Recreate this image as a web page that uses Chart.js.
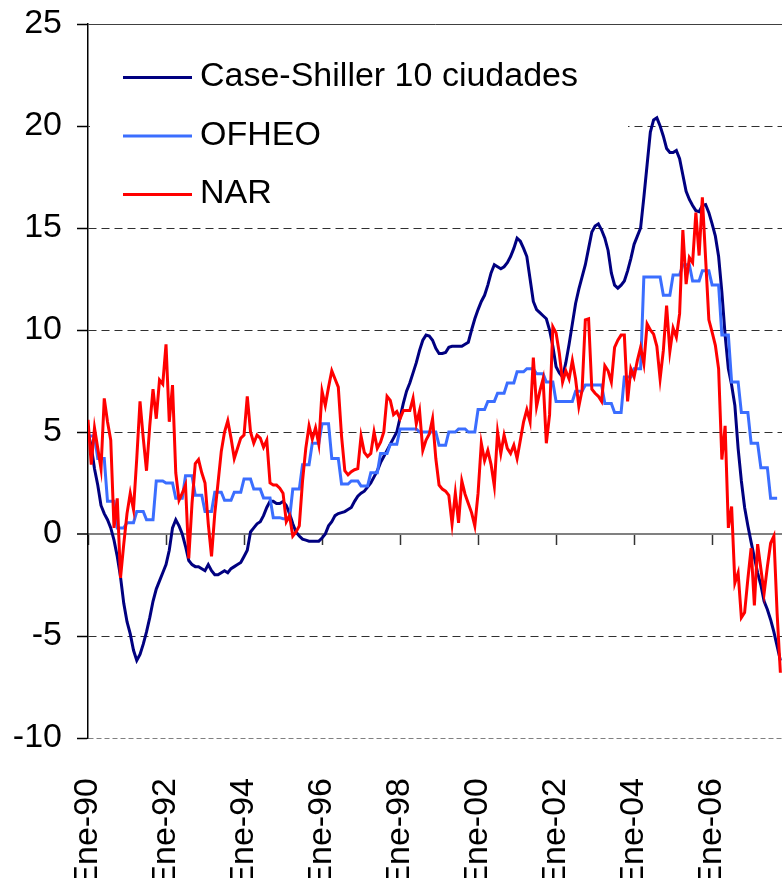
<!DOCTYPE html>
<html>
<head>
<meta charset="utf-8">
<script src="https://cdn.jsdelivr.net/npm/chart.js@4.4.1/dist/chart.umd.min.js"></script>
<style>
  html, body { margin: 0; padding: 0; background: #fff; overflow: hidden; }
  #wrap { width: 782px; height: 878px; }
</style>
</head>
<body>
<div id="wrap"><canvas id="chart" width="782" height="878"></canvas></div>
<script>
// monthly series start in Jan 1990 (index 0 = Ene-90)
const tickLabels = ["Ene-90", "Ene-92", "Ene-94", "Ene-96", "Ene-98", "Ene-00", "Ene-02", "Ene-04", "Ene-06"];
const tickMonths = [0, 24, 48, 72, 96, 120, 144, 168, 192];
const yTicks = [-10, -5, 0, 5, 10, 15, 20, 25];

const caseShiller = [
  5.0, 4.3, 3.2, 2.4, 1.4, 1.0, 0.7, 0.3, -0.3, -1.1,
  -2.1, -3.4, -4.3, -4.9, -5.7, -6.2, -5.9, -5.4, -4.8, -4.1,
  -3.3, -2.7, -2.3, -1.9, -1.5, -0.8, 0.3, 0.7, 0.4, 0.0,
  -0.6, -1.3, -1.5, -1.6, -1.6, -1.7, -1.8, -1.5, -1.8, -2.0,
  -2.0, -1.9, -1.8, -1.9, -1.7, -1.6, -1.5, -1.4, -1.1, -0.8,
  0.1, 0.3, 0.5, 0.6, 0.9, 1.3, 1.6, 1.6, 1.5, 1.5,
  1.6, 1.4, 1.0, 0.5, 0.1, -0.1, -0.25, -0.3, -0.35, -0.35,
  -0.35, -0.35, -0.2, 0.0, 0.4, 0.6, 0.9, 1.0, 1.05, 1.1,
  1.2, 1.3, 1.6, 1.85, 2.0, 2.1, 2.3, 2.5, 2.8, 3.1,
  3.5, 3.8, 4.1, 4.4, 4.7, 5.0, 5.7, 6.4, 7.0, 7.4,
  7.9, 8.4, 9.0, 9.5, 9.75, 9.7, 9.5, 9.1, 8.85, 8.85,
  8.9, 9.15, 9.2, 9.2, 9.2, 9.2, 9.3, 9.4, 10.0, 10.55,
  11.0, 11.4, 11.7, 12.2, 12.8, 13.2, 13.1, 13.0, 13.1, 13.3,
  13.6, 14.0, 14.5, 14.35, 14.0, 13.6, 12.5, 11.4, 11.0, 10.85,
  10.7, 10.55, 10.0, 9.2, 8.2, 7.9, 7.7, 8.4, 9.3, 10.3,
  11.3, 12.0, 12.6, 13.2, 14.0, 14.8, 15.1, 15.2, 14.9, 14.5,
  13.9, 12.8, 12.2, 12.05, 12.2, 12.4, 12.9, 13.5, 14.2, 14.6,
  15.0, 16.5, 18.1, 19.7, 20.3, 20.4, 20.0, 19.5, 18.9, 18.7,
  18.7, 18.8, 18.4, 17.6, 16.8, 16.4, 16.1, 15.85, 15.8, 16.1,
  16.15, 15.75, 15.2, 14.6, 13.6, 11.85, 9.75, 8.1, 7.3, 6.3,
  4.2, 2.6, 1.3, 0.4, -0.4, -1.15, -1.9, -2.5, -3.3, -3.7,
  -4.2, -4.8, -5.5, -6.2
];

// OFHEO is quarterly (index 0 = 1990 Q1)
const ofheo = [
  4.8, 3.7, 1.6, 0.3, 0.55, 1.1, 0.7, 2.6, 2.5, 1.75,
  2.85, 1.9, 1.1, 2.05, 1.65, 2.05, 2.7, 2.2, 1.77, 0.8,
  0.75, 2.2, 3.4, 4.45, 5.4, 3.7, 2.45, 2.6, 2.35, 3.0,
  3.95, 4.4, 5.15, 5.15, 5.0, 5.0, 4.35, 5.0, 5.15, 5.0,
  6.1, 6.5, 6.9, 7.4, 7.95, 8.1, 7.85, 7.45, 6.5, 6.5,
  7.0, 7.3, 7.3, 6.4, 5.95, 7.7, 8.1, 12.6, 12.6, 11.7,
  12.7, 13.2, 12.4, 12.9, 12.2, 9.75, 7.45, 5.95, 4.45, 3.25,
  1.75
];

const nar = [
  5.6, 3.4, 5.2, 4.2, 3.2, 6.65, 5.5, 4.6, 0.3, 1.75,
  -2.15, -0.5, 1.0, 2.0, 1.2, 3.7, 6.5, 4.7, 3.1, 5.3,
  7.1, 5.65, 7.55, 7.35, 9.3, 5.5, 7.3, 3.0, 1.65, 2.0,
  2.4, -1.2, 1.5, 3.45, 3.65, 3.0, 2.5, 0.5, -1.1, 1.0,
  2.5, 4.05, 5.0, 5.55, 4.7, 3.7, 4.2, 4.7, 4.85, 6.75,
  5.0, 4.45, 4.85, 4.7, 4.25, 4.6, 2.5, 2.4, 2.4, 2.25,
  2.0, 0.6, 0.9, -0.1, 0.1, 0.4, 2.6, 4.2, 5.3, 4.65,
  5.2, 4.4, 7.0, 6.3, 7.2, 8.0, 7.6, 7.2, 4.8, 3.1,
  2.9, 3.05, 3.15, 3.2, 4.8, 4.0, 3.8, 3.95, 5.0, 4.2,
  4.5, 5.0, 6.75, 6.55, 5.85, 6.0, 5.65, 6.05, 6.05, 6.05,
  6.65, 5.4, 6.05, 4.1, 4.6, 4.9, 5.65, 3.7, 2.4, 2.2,
  2.1, 1.9, 0.5, 2.0, 0.55, 2.6, 1.95, 1.5, 1.05, 0.4,
  2.0, 4.45, 3.6, 4.1, 3.4, 2.35, 5.0, 3.95, 4.85, 4.2,
  3.95, 4.35, 3.7, 4.6, 5.5, 6.1, 5.5, 8.65, 6.25, 7.0,
  7.6, 4.45, 5.85, 10.15, 9.85, 8.85, 7.45, 8.0, 7.6, 8.5,
  7.6, 6.25, 7.05, 10.5, 10.55, 7.1, 6.9, 6.75, 6.5, 8.25,
  8.0, 7.45, 9.15, 9.5, 9.75, 9.75, 6.5, 8.1, 7.7, 8.5,
  9.15, 8.35, 10.3, 10.0, 9.8, 9.2, 7.6, 9.0, 11.2, 8.95,
  10.1, 9.65, 10.8, 14.9, 12.25, 13.55, 13.3, 15.75, 13.65, 16.5,
  13.5, 10.5, 9.9, 9.25, 8.1, 3.65, 5.3, 0.3, 1.35, -2.4,
  -1.9, -4.1, -3.85, -2.2, -0.7, -3.5, -0.5, -1.7, -2.9, -1.6,
  -0.45, -0.1, -3.9, -6.8
];

const xMax = 213.5;

Chart.defaults.font.family = '"Liberation Sans", Arial, sans-serif';
Chart.defaults.font.size = 34;
Chart.defaults.color = "#000";

const monthly = arr => arr.map((v, i) => ({ x: i, y: v }));
// each quarter value held for its three months
const ofheoPoints = [];
ofheo.forEach((v, q) => {
  for (let k = 0; k < 3; k++) ofheoPoints.push({ x: q * 3 + k, y: v });
});

const setTicks = scale => { scale.ticks = tickMonths.map(v => ({ value: v })); };

// legend drawn inside the plot, on a white box like the original
const legendBox = {
  id: "legendBox",
  afterDraw(chart) {
    const c = chart.ctx;
    c.save();
    c.fillStyle = "#fff";
    c.fillRect(90, 40, 538, 174);
    c.font = '34px "Liberation Sans", Arial, sans-serif';
    c.textBaseline = "alphabetic";
    c.textAlign = "left";
    chart.data.datasets.forEach((ds, i) => {
      const y = 77.5 + i * 58.5;
      c.strokeStyle = ds.borderColor;
      c.lineWidth = 3;
      c.beginPath();
      c.moveTo(123, y);
      c.lineTo(192, y);
      c.stroke();
      c.fillStyle = "#000";
      c.fillText(ds.label, 200, 86 + i * 58.5);
    });
    c.restore();
  }
};

new Chart(document.getElementById("chart").getContext("2d"), {
  type: "line",
  data: {
    datasets: [
      { label: "Case-Shiller 10 ciudades", data: monthly(caseShiller), borderColor: "#000080", borderWidth: 3, pointRadius: 0, order: 3 },
      { label: "OFHEO", data: ofheoPoints, borderColor: "#3b6eff", borderWidth: 3, pointRadius: 0, order: 2 },
      { label: "NAR", data: monthly(nar), borderColor: "#ff0000", borderWidth: 3, pointRadius: 0, order: 1 }
    ]
  },
  options: {
    responsive: false,
    animation: false,
    layout: { padding: { top: 24, left: 0, right: 0, bottom: 0 } },
    plugins: { legend: { display: false }, tooltip: { enabled: false } },
    scales: {
      x: {
        type: "linear",
        bounds: "data",
        min: 0,
        max: xMax,
        afterBuildTicks: setTicks,
        afterFit: s => { s.height = 140; s.paddingLeft = 0; s.paddingRight = 0; },
        ticks: {
          autoSkip: false,
          minRotation: 90,
          maxRotation: 90,
          padding: 40,
          callback: v => tickLabels[tickMonths.indexOf(v)]
        },
        grid: { drawOnChartArea: false, drawTicks: false },
        border: { display: false }
      },
      xZero: {
        type: "linear",
        bounds: "data",
        min: 0,
        max: xMax,
        position: { y: 0 },
        afterBuildTicks: setTicks,
        afterFit: s => { s.paddingLeft = 0; s.paddingRight = 0; },
        ticks: { display: false },
        grid: { drawOnChartArea: false, drawTicks: true, tickLength: 10, tickColor: "#333", tickWidth: 1.5 },
        border: { display: true, color: "#808080", width: 2 }
      },
      y: {
        min: -10,
        max: 25,
        afterBuildTicks: s => { s.ticks = yTicks.map(v => ({ value: v })); },
        afterFit: s => { s.width = 88; },
        ticks: { padding: 15, font: { size: 34, lineHeight: 0.5 } },
        grid: {
          color: ctx => {
            const v = ctx.tick ? ctx.tick.value : null;
            if (v === 0 || v === -10) return "#808080";
            if (v === 25) return "#404040";
            return "#303030";
          },
          lineWidth: ctx => (ctx.tick && ctx.tick.value === 0 ? 2 : 1),
          tickLength: 11,
          tickColor: "#000",
          tickWidth: 1.5
        },
        border: {
          display: true,
          color: "#000",
          width: 1.5,
          dash: ctx => {
            const v = ctx.tick ? ctx.tick.value : null;
            if (v === null || v === 0 || v === 25) return [];
            if (v === -10) return [5, 3];
            return [8, 5];
          }
        }
      }
    }
  },
  plugins: [legendBox]
});
</script>
</body>
</html>
